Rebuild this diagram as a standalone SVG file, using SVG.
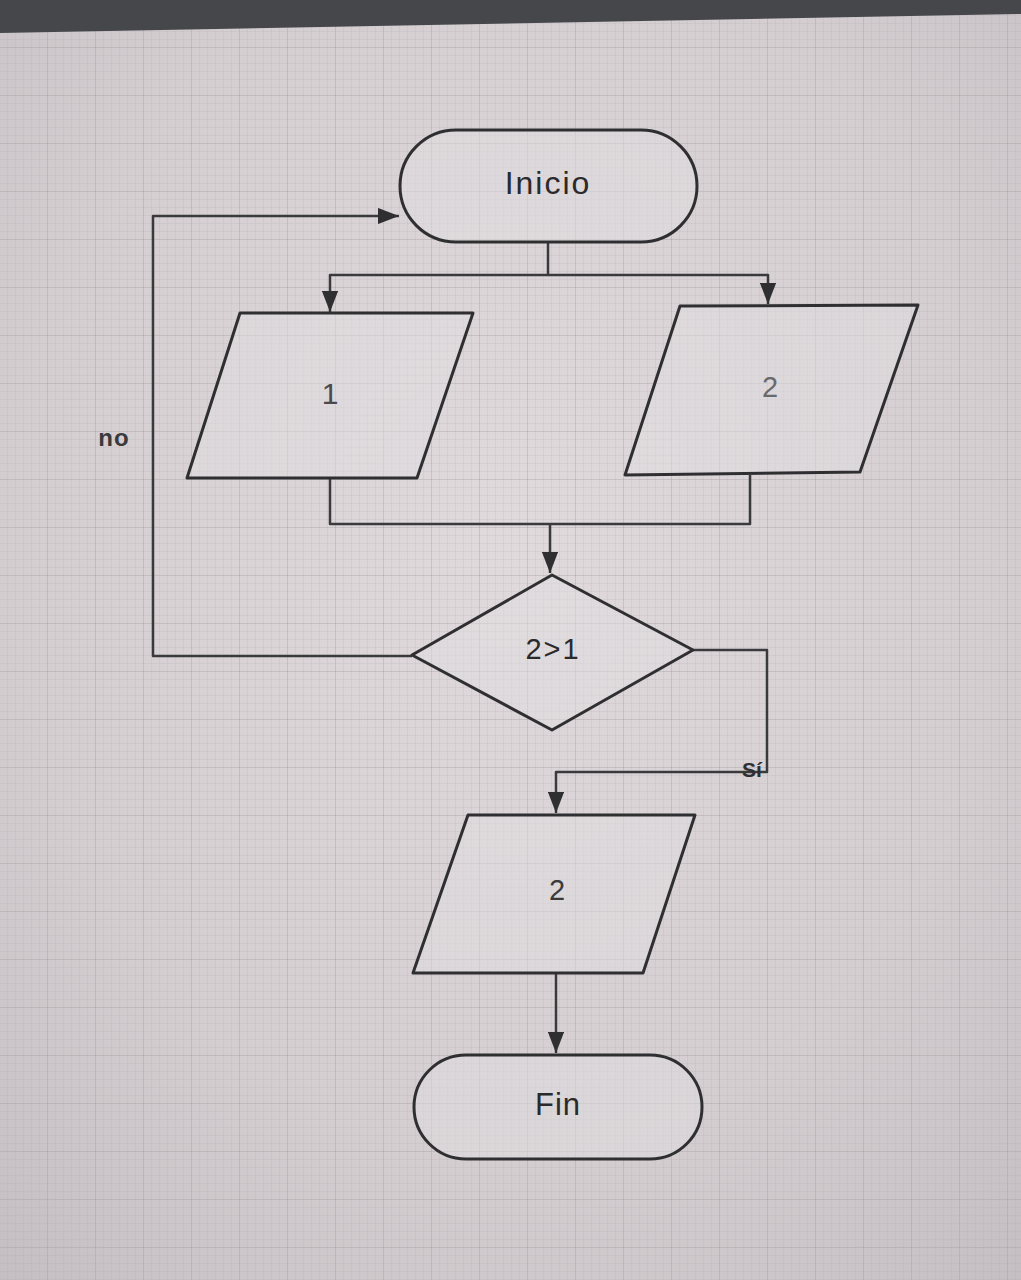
<svg xmlns="http://www.w3.org/2000/svg" width="1021" height="1280" viewBox="0 0 1021 1280">
<style>
.shape{fill:#e2dde0;fill-opacity:0.5;stroke:#2f2f31;stroke-width:3;stroke-linejoin:round}
.conn{fill:none;stroke:#3a3a3c;stroke-width:2.5;stroke-linejoin:round}
.lbl{font-family:"Liberation Sans",Arial,sans-serif;text-anchor:middle;dominant-baseline:central}
</style>
<defs>
<radialGradient id="bg" cx="0.5" cy="0.42" r="0.8">
<stop offset="0" stop-color="#e0dadd"/>
<stop offset="0.6" stop-color="#d4ced1"/>
<stop offset="1" stop-color="#c3bdc1"/>
</radialGradient>
<pattern id="grid" width="8" height="8" patternUnits="userSpaceOnUse">
<path d="M8 0V8M0 8H8" fill="none" stroke="#aaa4a8" stroke-width="0.7" stroke-opacity="0.5"/>
</pattern>
<pattern id="grid2" width="48" height="48" patternUnits="userSpaceOnUse">
<path d="M48 0V48M0 48H48" fill="none" stroke="#8f898d" stroke-width="1" stroke-opacity="0.4"/>
</pattern>
<marker id="arrB" viewBox="0 0 13 10" refX="13" refY="5" markerWidth="8.5" markerHeight="6.5" orient="auto" markerUnits="strokeWidth">
<path d="M0 0L13 5L0 10Z" fill="#2f2f31"/>
</marker>
</defs>
<rect width="1021" height="1280" fill="url(#bg)"/>
<rect width="1021" height="1280" fill="url(#grid)"/>
<rect width="1021" height="1280" fill="url(#grid2)"/>
<polygon points="0,0 1021,0 1021,14 0,33" fill="#46474b"/>

<g id="connectors">
<path class="conn" d="M548 243V275H330V312" marker-end="url(#arrB)"/>
<path class="conn" d="M548 275H768V304" marker-end="url(#arrB)"/>
<path class="conn" d="M330 478V524H750V475"/>
<path class="conn" d="M550 524V573" marker-end="url(#arrB)"/>
<path class="conn" d="M412 656H153V216H399" marker-end="url(#arrB)"/>
<path class="conn" d="M693 650H767V772H556V813" marker-end="url(#arrB)"/>
<path class="conn" d="M556 973V1053" marker-end="url(#arrB)"/>
</g>

<g id="inicio">
<rect class="shape" x="400" y="130" width="297" height="112" rx="56" ry="56"/>
<text class="lbl" x="548" y="183" font-size="32" letter-spacing="2" fill="#2a2a2c">Inicio</text>
</g>
<g id="in1">
<polygon class="shape" points="240,313 473,313 417,478 187,478"/>
<text class="lbl" x="330" y="393" font-size="30" fill="#4a4a4c">1</text>
</g>
<g id="in2">
<polygon class="shape" points="680,306 918,305 860,472 625,475"/>
<text class="lbl" x="770" y="387" font-size="29" fill="#6a6a6d">2</text>
</g>
<g id="decision">
<polygon class="shape" points="552,575 693,650 552,730 412,655"/>
<text class="lbl" x="553" y="649" font-size="29" letter-spacing="2" fill="#2a2a2c">2&gt;1</text>
</g>
<g id="out2">
<polygon class="shape" points="468,815 695,815 643,973 413,973"/>
<text class="lbl" x="557" y="890" font-size="29" fill="#3a3a3c">2</text>
</g>
<g id="fin">
<rect class="shape" x="414" y="1055" width="288" height="104" rx="52" ry="52"/>
<text class="lbl" x="558" y="1104" font-size="31" letter-spacing="1" fill="#2a2a2c">Fin</text>
</g>
<g id="labels">
<text class="lbl" x="114" y="437" font-size="24" font-weight="bold" letter-spacing="1" fill="#3a3a3c">no</text>
<text class="lbl" x="752" y="769" font-size="21" font-weight="bold" fill="#2f2f31">Sí</text>
</g>
</svg>
